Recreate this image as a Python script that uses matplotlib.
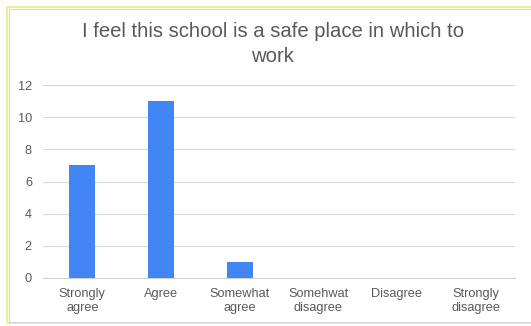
import matplotlib
matplotlib.use('Agg')
import matplotlib.pyplot as plt
from matplotlib.patches import Rectangle

categories = ['Strongly\nagree', 'Agree', 'Somewhat\nagree', 'Somehwat\ndisagree',
              'Disagree', 'Strongly\ndisagree']
counts = [7, 11, 1, 0, 0, 0]
yticks = [0, 2, 4, 6, 8, 10, 12]

plt.rcParams['font.family'] = ['Liberation Sans', 'DejaVu Sans']

fig = plt.figure(figsize=(5.31, 3.26), dpi=100)
# outer frame
fig.patches.append(Rectangle((7 / 531, 3 / 326), 1, 1 - 10 / 326, transform=fig.transFigure,
                             facecolor='none', edgecolor='#f2ea7a', lw=1.2, zorder=-2))
fig.patches.append(Rectangle((9 / 531, 4 / 326), 1, 1 - 13 / 326, transform=fig.transFigure,
                             facecolor='none', edgecolor='#d9d9d9', lw=0.8, zorder=-1))

ax = fig.add_axes([43 / 531, 1 - 278 / 326, 472 / 531, 193 / 326])
x = range(len(categories))
ax.bar(x, counts, width=0.33, color='#4285f4', zorder=3)

ax.set_xlim(-0.5, len(categories) - 0.5)
ax.set_ylim(0, 12)
ax.set_yticks(yticks)
ax.set_xticks(list(x))
ax.set_xticklabels(categories, fontsize=9.2, color='#595959', linespacing=1.3)
ax.tick_params(axis='y', labelsize=9.2, labelcolor='#595959', length=0, pad=8)
ax.tick_params(axis='x', length=0, pad=7)
ax.grid(axis='y', color='#d9d9d9', lw=0.8, zorder=0)
for s in ['top', 'right', 'left']:
    ax.spines[s].set_visible(False)
ax.spines['bottom'].set_color('#d0d0d0')
ax.set_facecolor('none')

fig.text(0.514, 1 - 44 / 326, 'I feel this school is a safe place in which to\nwork',
         ha='center', va='center', fontsize=14.6, color='#595959', linespacing=1.35)

fig.savefig('out.png', dpi=100)
